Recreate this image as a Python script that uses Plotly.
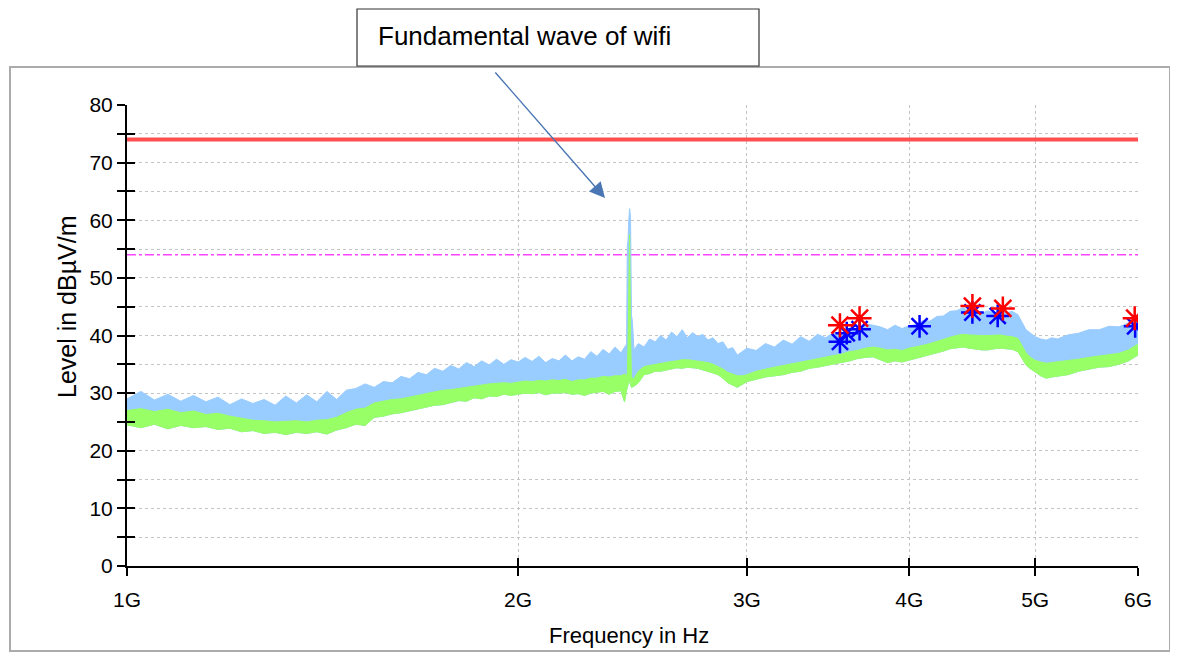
import math
import plotly.graph_objects as go

# ---------------- data ----------------
freq_ghz = [1.000, 1.025, 1.050, 1.075, 1.100, 1.125, 1.150, 1.175, 1.200, 1.225,
            1.250, 1.275, 1.300, 1.325, 1.350, 1.375, 1.400, 1.425, 1.450, 1.475,
            1.500, 1.525, 1.550, 1.575, 1.600, 1.625, 1.650, 1.675, 1.700, 1.725,
            1.750, 1.775, 1.800, 1.825, 1.850, 1.875, 1.900, 1.925, 1.950, 1.975,
            2.000, 2.025, 2.050, 2.075, 2.100, 2.125, 2.150, 2.175, 2.200, 2.225,
            2.250, 2.275, 2.300, 2.325, 2.350, 2.375, 2.400, 2.415, 2.424, 2.427,
            2.430, 2.4335, 2.437, 2.441, 2.445, 2.449, 2.456, 2.475, 2.500, 2.525,
            2.550, 2.575, 2.600, 2.625, 2.650, 2.675, 2.700, 2.725, 2.750, 2.775,
            2.800, 2.825, 2.850, 2.875, 2.900, 2.925, 2.950, 2.975, 3.000, 3.050,
            3.100, 3.150, 3.200, 3.250, 3.300, 3.350, 3.400, 3.450, 3.500, 3.550,
            3.600, 3.650, 3.700, 3.750, 3.800, 3.850, 3.900, 3.950, 4.000, 4.050,
            4.100, 4.150, 4.200, 4.250, 4.300, 4.350, 4.400, 4.450, 4.500, 4.550,
            4.600, 4.650, 4.700, 4.750, 4.800, 4.850, 4.880, 4.920, 4.960, 5.000,
            5.050, 5.100, 5.150, 5.200, 5.300, 5.400, 5.500, 5.600, 5.700, 5.800,
            5.900, 6.000]

# upper edge of the peak (light blue) trace, dBuV/m
peak_top = [29.0, 30.3, 28.8, 29.8, 28.6, 29.6, 28.5, 29.3, 28.0, 29.0,
            28.2, 28.9, 27.9, 29.5, 28.3, 29.7, 28.5, 30.3, 28.9, 30.5,
            30.8, 31.6, 31.0, 32.0, 31.8, 32.9, 32.5, 33.6, 33.2, 34.3,
            33.8, 34.8, 34.2, 35.3, 34.6, 35.6, 34.9, 35.9, 35.0, 35.8,
            35.4, 36.2, 35.5, 36.4, 35.3, 36.0, 35.6, 36.6, 35.6, 36.3,
            35.9, 37.2, 36.4, 37.6, 36.8, 38.0, 37.0, 38.0, 38.5, 55.5,
            56.4, 60.0, 62.0, 60.5, 43.5, 42.5, 37.5, 38.6, 38.0, 39.4,
            38.9, 40.0, 39.2, 40.6, 39.8, 41.0, 39.6, 40.5, 39.8, 40.2,
            39.2, 39.6, 38.6, 38.9, 37.6, 37.9, 36.6, 37.2, 37.8, 37.4,
            38.6, 38.0, 39.2, 38.5, 39.8, 39.0, 40.2, 39.6, 40.6, 40.3,
            41.3, 41.0, 42.0, 41.8, 41.5, 41.0, 41.8, 41.2, 41.7, 41.9,
            42.6, 42.5, 43.3, 43.4, 44.2, 44.3, 44.8, 44.2, 44.5, 43.9,
            44.3, 43.8, 44.4, 43.9, 44.2, 43.6, 42.5, 41.0, 40.4, 39.8,
            39.4, 39.2, 39.6, 39.4, 40.1, 40.4, 41.0, 41.0, 41.6, 41.5,
            42.2, 42.7]

# upper edge of the average (green) trace
avg_top = [27.0, 27.3, 26.8, 27.2, 26.6, 26.9, 26.3, 26.5, 26.0, 25.7,
           25.3, 25.2, 25.0, 25.1, 25.2, 25.0, 25.3, 25.4, 25.8, 26.6,
           27.2, 27.4, 28.3, 28.6, 28.9, 29.0, 29.3, 29.6, 30.0, 30.3,
           30.5, 30.6, 30.8, 31.0, 31.3, 31.4, 31.6, 31.7, 31.8, 31.7,
           31.9, 32.1, 32.0, 32.2, 32.1, 32.3, 32.2, 32.4, 32.0, 32.3,
           32.3, 32.6, 32.6, 32.9, 32.8, 33.0, 33.0, 33.3, 33.0, 33.5,
           38.0, 50.0, 57.5, 40.0, 33.0, 32.5, 32.5, 33.8, 34.6, 34.8,
           35.0, 35.2, 35.3, 35.5, 35.6, 35.8, 35.8, 35.7, 35.6, 35.5,
           35.3, 35.0, 34.6, 34.2, 33.6, 33.3, 33.0, 33.0, 33.2, 33.8,
           34.2, 34.5, 34.8, 35.1, 35.4, 35.6, 35.9, 36.2, 36.5, 36.8,
           37.2, 37.4, 37.8, 38.0, 37.8, 37.5, 37.6, 37.4, 37.8, 38.0,
           38.3, 38.6, 39.0, 39.3, 39.7, 40.0, 40.2, 40.1, 40.0, 40.0,
           40.0, 40.1, 40.1, 39.9, 39.8, 39.5, 38.5, 37.0, 36.2, 35.7,
           35.4, 35.2, 35.3, 35.4, 35.6, 35.9, 36.2, 36.4, 36.6, 36.9,
           37.5, 38.5]

# lower edge of both traces
avg_bottom = [24.5, 24.0, 24.6, 23.8, 24.4, 24.0, 24.2, 23.7, 23.9, 23.3,
              23.5, 23.0, 23.2, 22.8, 23.2, 23.0, 23.3, 22.9, 23.6, 24.0,
              24.6, 24.4, 25.8, 26.0, 26.4, 26.6, 26.9, 27.2, 27.6, 27.9,
              28.0, 28.4, 28.7, 28.6, 29.2, 29.0, 29.5, 29.4, 29.8, 29.6,
              29.8, 30.0, 29.9, 30.1, 29.7, 30.0, 30.0, 30.1, 29.8, 29.9,
              29.6, 30.0, 30.2, 30.3, 29.8, 30.3, 30.4, 28.5, 30.5, 31.0,
              31.5, 32.0, 32.0, 31.5, 31.0, 31.0, 31.2, 31.8, 33.2, 33.4,
              33.8, 33.8, 34.0, 34.2, 34.4, 34.3, 34.5, 34.4, 34.3, 34.0,
              33.8, 33.5, 33.2, 32.6, 31.8, 31.4, 31.0, 31.5, 32.0, 32.4,
              32.8, 33.0, 33.2, 33.6, 33.8, 34.3, 34.5, 34.8, 35.0, 35.3,
              35.6, 36.0, 36.2, 36.3, 35.8, 35.3, 35.6, 35.4, 35.8, 36.0,
              36.4, 36.7, 37.0, 37.3, 37.7, 37.9, 38.0, 37.8, 37.6, 37.5,
              37.5, 37.7, 37.8, 37.7, 37.6, 37.2, 36.2, 34.9, 34.2, 33.7,
              33.0, 32.6, 32.8, 33.0, 33.2, 33.8, 34.2, 34.5, 34.6, 35.0,
              35.6, 36.6]

limit_peak = 74.0
limit_avg = 54.0

blue_marker_freq = [3.538, 3.581, 3.663, 4.074, 4.474, 4.679, 5.970]
blue_marker_level = [38.9, 40.4, 41.1, 41.6, 44.0, 43.4, 41.6]
red_marker_freq = [3.538, 3.663, 4.474, 4.722, 5.965]
red_marker_level = [41.8, 43.0, 45.1, 44.7, 43.0]

x_tick_vals = [1, 2, 3, 4, 5, 6]
x_tick_text = ["1G", "2G", "3G", "4G", "5G", "6G"]
y_major = [0, 10, 20, 30, 40, 50, 60, 70, 80]
y_minor = [5, 15, 25, 35, 45, 55, 65, 75]

annotation_text = "Fundamental wave of wifi"

# ---------------- styles ----------------
FONT = "Liberation Sans, Arial, sans-serif"
BLUE = "#99ccff"
GREEN = "#99ff66"
GRID = "#c4c4c4"

fig = go.Figure()

# average limit (dash-dot magenta)
fig.add_trace(go.Scatter(
    x=[freq_ghz[0], freq_ghz[-1]], y=[limit_avg, limit_avg], mode="lines",
    line=dict(color="#ff44ff", width=1.5, dash="dashdot"), hoverinfo="skip"))

# peak trace band
fig.add_trace(go.Scatter(
    x=freq_ghz + freq_ghz[::-1], y=peak_top + avg_bottom[::-1],
    mode="lines", fill="toself", fillcolor=BLUE,
    line=dict(color=BLUE, width=1), hoverinfo="skip"))

# average trace band
fig.add_trace(go.Scatter(
    x=freq_ghz + freq_ghz[::-1], y=avg_top + avg_bottom[::-1],
    mode="lines", fill="toself", fillcolor=GREEN,
    line=dict(color=GREEN, width=1), hoverinfo="skip"))

# final measurement markers
fig.add_trace(go.Scatter(
    x=blue_marker_freq, y=blue_marker_level, mode="markers",
    marker=dict(symbol="asterisk-open", size=19, color="#0000ff",
                line=dict(color="#0000ff", width=2.5)), hoverinfo="skip"))
fig.add_trace(go.Scatter(
    x=red_marker_freq, y=red_marker_level, mode="markers",
    marker=dict(symbol="asterisk-open", size=20, color="#ff0000",
                line=dict(color="#ff0000", width=2.5)), hoverinfo="skip"))

# peak limit (thick red) on the overlay axes, which also carry the inner ticks
fig.add_trace(go.Scatter(
    x=[freq_ghz[0], freq_ghz[-1]], y=[limit_peak, limit_peak], mode="lines",
    line=dict(color="#ff4f4f", width=4), xaxis="x2", yaxis="y2", hoverinfo="skip"))

xr = [math.log10(1), math.log10(6)]
common_x = dict(type="log", range=xr, tickvals=x_tick_vals, zeroline=False)
common_y = dict(range=[0, 80], tickvals=y_major, zeroline=False)

# page body has an 8px margin, so the figure is offset by 8px; compensate.
OFF = 8
W, H = 1178, 653
L, R, T, B = 127, 1138, 105, 566   # plot area in window pixels

fig.update_layout(
    width=W, height=H,
    margin=dict(l=L - OFF, r=W - (R - OFF), t=T - OFF, b=H - (B - OFF)),
    paper_bgcolor="white", plot_bgcolor="white",
    showlegend=False,
    font=dict(family=FONT, color="black"),
    xaxis=dict(**common_x, ticktext=x_tick_text, ticks="outside", ticklen=8,
               tickwidth=1.5, tickcolor="black", showline=True, linecolor="black",
               linewidth=2, showgrid=True, gridcolor=GRID, griddash="dot",
               gridwidth=1, tickfont=dict(size=21, family=FONT),
               ticklabelstandoff=6),
    yaxis=dict(**common_y, ticks="outside", ticklen=8, tickwidth=2,
               tickcolor="black", showline=True, linecolor="black", linewidth=2,
               showgrid=True, gridcolor=GRID, griddash="dot", gridwidth=1,
               tickfont=dict(size=21, family=FONT),
               minor=dict(tickvals=y_minor, ticks="outside", ticklen=8,
                          tickwidth=2, tickcolor="black", showgrid=True,
                          gridcolor=GRID, griddash="dot", gridwidth=1)),
    xaxis2=dict(**common_x, overlaying="x", anchor="y2", side="bottom",
                ticks="inside", ticklen=8, tickwidth=1.5, tickcolor="black",
                showticklabels=False, showgrid=False, showline=False),
    yaxis2=dict(**common_y, overlaying="y", anchor="x2", side="left",
                ticks="inside", ticklen=8, tickwidth=2, tickcolor="black",
                showticklabels=False, showgrid=False, showline=False,
                minor=dict(tickvals=y_minor, ticks="inside", ticklen=8,
                           tickwidth=2, tickcolor="black", showgrid=False)),
)

def px(x):
    return (x - L) / (R - L)
def py(y):
    return (B - y) / (B - T)

# outer frame
fig.add_shape(type="rect", xref="paper", yref="paper",
              x0=px(10), x1=px(1170), y0=py(651), y1=py(67),
              line=dict(color="#ababab", width=2), fillcolor="rgba(0,0,0,0)",
              layer="below")

# callout box
fig.add_shape(type="rect", xref="paper", yref="paper",
              x0=px(357), x1=px(759), y0=py(66), y1=py(9),
              line=dict(color="#333333", width=1.2), fillcolor="white")
fig.add_annotation(xref="paper", yref="paper", x=px(376), y=py(36),
                   xanchor="left", yanchor="middle", showarrow=False,
                   text=annotation_text, font=dict(size=26, family=FONT))
# callout arrow
fig.add_annotation(xref="paper", yref="paper", x=px(605), y=py(198),
                   ax=494 - 605, ay=71 - 198, axref="pixel", ayref="pixel",
                   text="", showarrow=True, arrowhead=2, arrowsize=2.2,
                   arrowwidth=1.4, arrowcolor="#4a76b4")

# axis titles
fig.add_annotation(xref="paper", yref="paper", x=px(629), y=py(635),
                   xanchor="center", yanchor="middle", showarrow=False,
                   text="Frequency in Hz", font=dict(size=22, family=FONT))
fig.add_annotation(xref="paper", yref="paper", x=px(67), y=py(307),
                   xanchor="center", yanchor="middle", showarrow=False,
                   textangle=-90, text="Level in dBµV/m",
                   font=dict(size=25, family=FONT))

fig.write_html("out.html")
